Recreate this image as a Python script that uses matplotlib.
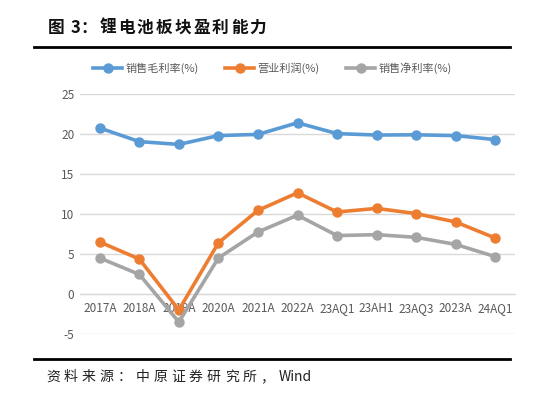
import matplotlib
matplotlib.use("Agg")
import matplotlib.pyplot as plt
from matplotlib.lines import Line2D

plt.rcParams['font.family'] = ['Noto Sans CJK SC', 'DejaVu Sans']

categories = ["2017A", "2018A", "2019A", "2020A", "2021A", "2022A",
              "23AQ1", "23AH1", "23AQ3", "2023A", "24AQ1"]
gross_margin = [20.75, 19.05, 18.7, 19.8, 19.95, 21.4, 20.05, 19.87, 19.9, 19.8, 19.3]
operating_profit = [6.5, 4.37, -2.0, 6.4, 10.45, 12.65, 10.25, 10.7, 10.05, 9.0, 7.0]
net_margin = [4.5, 2.45, -3.5, 4.5, 7.75, 9.85, 7.3, 7.42, 7.08, 6.2, 4.67]
series_names = ["销售毛利率(%)", "营业利润(%)", "销售净利率(%)"]
colors = ["#5B9BD5", "#ED7D31", "#A5A5A5"]
yticks = [-5, 0, 5, 10, 15, 20, 25]
title = "图 3：锂电池板块盈利能力"
source = "资料来源：中原证券研究所，Wind"

W, H = 545, 420
fig = plt.figure(figsize=(W / 100, H / 100), dpi=100)
renderer = fig.canvas.get_renderer()


def tracked_text(s, x_px, y_px, tracking_px, **kw):
    """Draw a string with extra letter spacing after wide (CJK) characters;
    runs of ASCII characters are drawn as one piece."""
    x = x_px
    i = 0
    while i < len(s):
        if ord(s[i]) < 128 and s[i] != ' ':
            j = i
            while j < len(s) and ord(s[j]) < 128 and s[j] != ' ':
                j += 1
            piece, extra = s[i:j], 0
            i = j
        else:
            piece = s[i]
            extra = tracking_px if piece != ' ' else 0
            i += 1
        t = fig.text(x / W, 1 - y_px / H, piece, va='center', ha='left', **kw)
        x += t.get_window_extent(renderer=renderer).width + extra


ax = fig.add_axes([80 / W, 1 - 334 / H, 435 / W, 240 / H])
x = list(range(len(categories)))
for vals, c in zip([gross_margin, operating_profit, net_margin], colors):
    ax.plot(x, vals, color=c, lw=2.6, marker='o', ms=6.5, zorder=3)

ax.set_xlim(-0.5, len(categories) - 0.5)
ax.set_ylim(-5, 25)
ax.set_yticks(yticks)
ax.set_yticklabels([str(v) for v in yticks])
ax.yaxis.grid(True, color='#D9D9D9', lw=1)
ax.set_axisbelow(True)
for s in ['top', 'right', 'left']:
    ax.spines[s].set_visible(False)
ax.spines['bottom'].set_position(('data', 0))
ax.spines['bottom'].set_color('#D9D9D9')
ax.set_xticks(x)
ax.set_xticklabels(categories)
ax.tick_params(axis='both', length=0, labelsize=8.5, labelcolor='#595959')
ax.tick_params(axis='y', pad=4)
ax.tick_params(axis='x', pad=6)

# Legend
handles = [Line2D([0], [0], color=c, lw=2.6, marker='o', ms=6.5) for c in colors]
fig.legend(handles, series_names, loc='center', bbox_to_anchor=(0.5, 1 - 68 / H),
           ncol=3, frameon=False, fontsize=8, handlelength=2.6, columnspacing=2.4,
           handletextpad=0.3, labelcolor='#595959')

# Title and rules
tracked_text(title, 48, 28, 2.2, fontsize=12, fontweight='bold', color='#111111')
fig.add_artist(Line2D([34 / W, 510 / W], [1 - 47 / H, 1 - 47 / H], color='black', lw=2))
fig.add_artist(Line2D([34 / W, 510 / W], [1 - 359 / H, 1 - 359 / H], color='black', lw=2))
tracked_text(source, 46, 377, 4.0, fontsize=10, color='#222222')

fig.savefig("out.png", dpi=100)
